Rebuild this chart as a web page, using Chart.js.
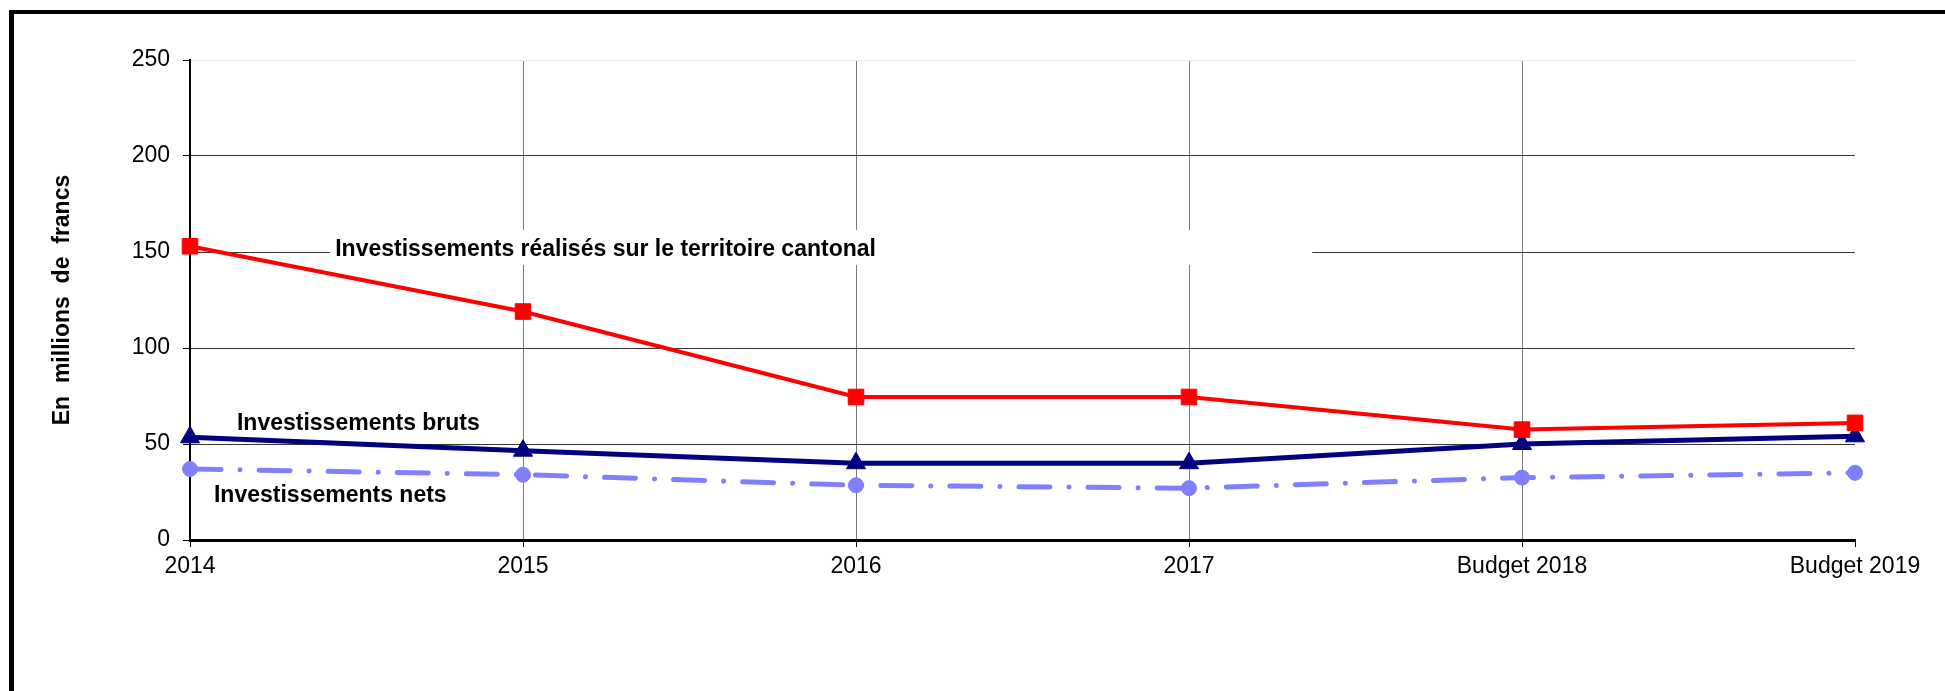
<!DOCTYPE html>
<html>
<head>
<meta charset="utf-8">
<script src="https://cdn.jsdelivr.net/npm/chart.js@4.4.1/dist/chart.umd.min.js"></script>
<style>
  html, body { margin: 0; padding: 0; background: #fff; }
  #wrap { width: 1945px; height: 691px; position: relative; }
</style>
</head>
<body>
<div id="wrap"><canvas id="chart"></canvas></div>
<script>
// values (millions de francs)
var years = ['2014', '2015', '2016', '2017', 'Budget 2018', 'Budget 2019'];
var territoire = [153, 119, 74.5, 74.5, 57.5, 61];
var bruts = [53.5, 46.5, 40, 40, 50, 54];
var nets = [37, 34, 28.5, 27, 32.5, 35];
var yTicks = [0, 50, 100, 150, 200, 250];

var labelTerritoire = 'Investissements réalisés sur le territoire cantonal';
var labelBruts = 'Investissements bruts';
var labelNets = 'Investissements nets';
var yTitle = 'En  millions  de  francs';

var fontFamily = '"Liberation Sans", Arial, sans-serif';
Chart.defaults.font.family = fontFamily;
Chart.defaults.color = '#000';

// thick frame round the whole picture
var frame = {
  id: 'frame',
  beforeDraw: function (chart) {
    var ctx = chart.ctx;
    ctx.save();
    ctx.fillStyle = '#fff';
    ctx.fillRect(0, 0, chart.width, chart.height);
    ctx.fillStyle = '#000';
    ctx.fillRect(9, 10, chart.width - 9, 4);
    ctx.fillRect(9, 10, 5, chart.height - 10);
    ctx.restore();
  }
};

// the series names written next to the lines
var seriesLabels = {
  id: 'seriesLabels',
  beforeDatasetsDraw: function (chart) {
    var x = chart.scales.x, y = chart.scales.y, ctx = chart.ctx;
    var left = x.getPixelForValue(0.42), right = x.getPixelForValue(3.37);
    var top = y.getPixelForValue(161.5), bottom = y.getPixelForValue(143.3);
    ctx.save();
    ctx.fillStyle = '#fff';
    ctx.fillRect(left, top, right - left, bottom - top);
    ctx.restore();
  },
  afterDatasetsDraw: function (chart) {
    var x = chart.scales.x, y = chart.scales.y, ctx = chart.ctx;
    ctx.save();
    ctx.font = 'bold 23px ' + fontFamily;
    ctx.fillStyle = '#000';
    ctx.textBaseline = 'alphabetic';
    ctx.textAlign = 'left';
    ctx.fillText(labelTerritoire, x.getPixelForValue(0.436), y.getPixelForValue(148));
    ctx.fillText(labelBruts, x.getPixelForValue(0.141), y.getPixelForValue(57.5));
    ctx.fillText(labelNets, x.getPixelForValue(0.072), y.getPixelForValue(20));
    ctx.restore();
  }
};

new Chart(document.getElementById('chart'), {
  type: 'line',
  data: {
    labels: years,
    datasets: [{
      label: labelTerritoire,
      data: territoire,
      borderColor: '#ff0000',
      backgroundColor: '#ff0000',
      borderWidth: 4,
      pointStyle: 'rect',
      pointRadius: 11,
      pointBorderWidth: 1,
      tension: 0,
      clip: false
    }, {
      label: labelBruts,
      data: bruts,
      borderColor: '#000080',
      backgroundColor: '#000080',
      borderWidth: 5,
      pointStyle: 'triangle',
      pointRadius: 11,
      pointBorderWidth: 1,
      tension: 0,
      clip: false
    }, {
      label: labelNets,
      data: nets,
      borderColor: '#8080ff',
      backgroundColor: '#8080ff',
      borderWidth: 5,
      borderDash: [31, 19, 0.1, 19],
      borderCapStyle: 'round',
      pointStyle: 'circle',
      pointRadius: 7.5,
      pointBorderWidth: 1,
      tension: 0,
      clip: false
    }]
  },
  options: {
    responsive: true,
    maintainAspectRatio: false,
    animation: false,
    events: [],
    layout: { padding: { top: 60, left: 14, right: 90, bottom: 0 } },
    plugins: {
      legend: { display: false },
      tooltip: { enabled: false }
    },
    scales: {
      x: {
        offset: false,
        afterFit: function (scale) { scale.height = 151; },
        border: { color: '#000', width: 3 },
        grid: {
          color: function (c) {
            return (c.index === 0 || c.index === years.length - 1) ? 'rgba(0,0,0,0)' : '#7a7a7a';
          },
          tickColor: '#000',
          tickLength: 7,
          lineWidth: 1
        },
        ticks: {
          font: { size: 23 },
          color: '#000',
          padding: 6,
          maxRotation: 0,
          autoSkip: false
        }
      },
      y: {
        min: 0,
        max: 250,
        afterFit: function (scale) { scale.width = 176; },
        afterBuildTicks: function (axis) {
          axis.ticks = yTicks.map(function (v) { return { value: v }; });
        },
        border: { color: '#000', width: 2 },
        grid: {
          color: function (c) {
            if (c.tick.value === 0) return 'rgba(0,0,0,0)';
            if (c.tick.value === 250) return '#ececec';
            return '#383838';
          },
          tickColor: '#000',
          tickLength: 7,
          lineWidth: 1
        },
        ticks: {
          font: { size: 23 },
          color: '#000',
          padding: 13
        },
        title: {
          display: true,
          text: yTitle,
          color: '#000',
          font: { size: 23, weight: 'bold' },
          padding: { top: 35, bottom: 0 }
        }
      }
    }
  },
  plugins: [frame, seriesLabels]
});
</script>
</body>
</html>
